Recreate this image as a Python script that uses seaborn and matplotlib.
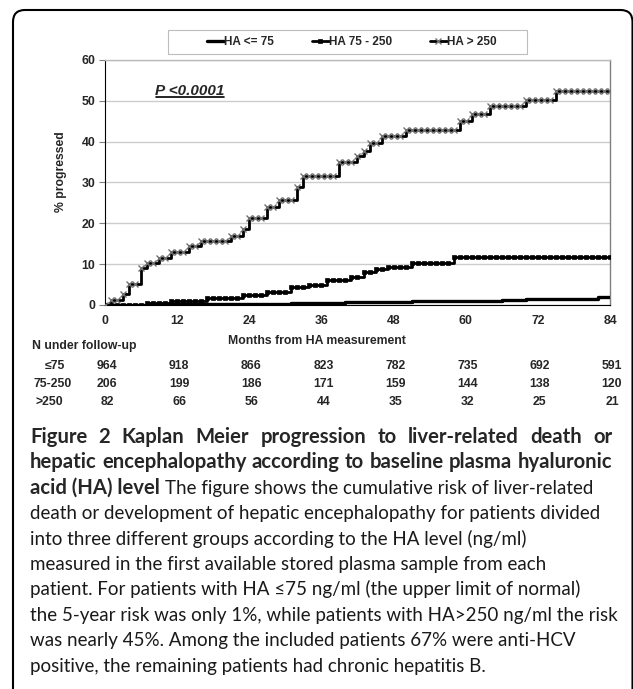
import numpy as np
import pandas as pd
import matplotlib.pyplot as plt
import seaborn as sns
from matplotlib.patches import FancyBboxPatch, Rectangle
from matplotlib.lines import Line2D
from matplotlib.transforms import IdentityTransform

# ---- data (cumulative % progressed, monthly) ----
months = list(range(85))
ha_high = [0, 1.2, 1.2, 2.8, 5.2, 5.2, 9.0, 10.2, 10.2, 11.5, 11.5, 12.9,
           12.9, 12.9, 14.5, 14.5, 15.7, 15.7, 15.7, 15.7, 15.7, 17.0, 17.0, 18.5,
           21.2, 21.2, 21.2, 24.0, 24.0, 25.6, 25.6, 25.6, 28.8, 31.5, 31.5, 31.5,
           31.5, 31.5, 31.5, 35.0, 35.0, 35.0, 36.6, 37.8, 39.6, 39.6, 41.5, 41.5,
           41.5, 41.5, 42.8, 42.8, 42.8, 42.8, 42.8, 42.8, 42.8, 42.8, 42.8, 45.0,
           45.0, 46.8, 46.8, 46.8, 48.8, 48.8, 48.8, 48.8, 48.8, 48.8, 50.2, 50.2,
           50.2, 50.2, 50.2, 52.3, 52.3, 52.3, 52.3, 52.3, 52.3, 52.3, 52.3, 52.3,
           52.3]
ha_mid = [0, 0, 0, 0, 0, 0, 0, 0.6, 0.6, 0.6, 0.6, 1.0,
          1.0, 1.0, 1.0, 1.0, 1.0, 1.6, 1.6, 1.6, 1.6, 1.6, 1.6, 2.4,
          2.4, 2.4, 2.4, 3.2, 3.2, 3.2, 3.2, 4.4, 4.4, 4.4, 5.0, 5.0,
          5.0, 6.0, 6.0, 6.0, 6.0, 6.9, 6.9, 8.1, 8.1, 8.7, 8.7, 9.3,
          9.3, 9.3, 9.3, 10.3, 10.3, 10.3, 10.3, 10.3, 10.3, 10.3, 11.8, 11.8,
          11.8, 11.8, 11.8, 11.8, 11.8, 11.8, 11.8, 11.8, 11.8, 11.8, 11.8, 11.8,
          11.8, 11.8, 11.8, 11.8, 11.8, 11.8, 11.8, 11.8, 11.8, 11.8, 11.8, 11.8,
          11.8]
# HA <= 75 only changes a few times
ha_low_months = [0, 7, 17, 31, 40, 51, 66, 70, 82, 84]
ha_low = [0, 0.2, 0.3, 0.5, 0.7, 1.0, 1.3, 1.5, 1.9, 1.9]

series_labels = ['HA <= 75', 'HA 75 - 250', 'HA > 250']

# numbers at risk
tick_months = [0, 12, 24, 36, 48, 60, 72, 84]
risk_groups = ['≤75', '75-250', '>250']
n_low = [964, 918, 866, 823, 782, 735, 692, 591]
n_mid = [206, 199, 186, 171, 159, 144, 138, 120]
n_high = [82, 66, 56, 44, 35, 32, 25, 21]

caption_bold = ["Figure 2 Kaplan Meier progression to liver-related death or",
                "hepatic encephalopathy according to baseline plasma hyaluronic",
                "acid (HA) level"]
caption_rest = ["The figure shows the cumulative risk of liver-related",
                "death or development of hepatic encephalopathy for patients divided",
                "into three different groups according to the HA level (ng/ml)",
                "measured in the first available stored plasma sample from each",
                "patient. For patients with HA ≤75 ng/ml (the upper limit of normal)",
                "the 5-year risk was only 1%, while patients with HA>250 ng/ml the risk",
                "was nearly 45%. Among the included patients 67% were anti-HCV",
                "positive, the remaining patients had chronic hepatitis B."]

# ---- figure ----
sns.set_style("white")
plt.rcParams['font.family'] = ['Liberation Sans', 'DejaVu Sans']

W, H = 633, 689
fig = plt.figure(figsize=(W / 100, H / 100), dpi=100)


def fx(px):
    return px / W


def fy(py):
    return 1 - py / H


ax = fig.add_axes([fx(105), fy(305), 505 / W, 245 / H])

df_low = pd.DataFrame({'month': ha_low_months, 'pct': ha_low})
df_mid = pd.DataFrame({'month': months, 'pct': ha_mid})
df_high = pd.DataFrame({'month': months, 'pct': ha_high})

sns.lineplot(data=df_low, x='month', y='pct', ax=ax, color='black', lw=2.4,
             drawstyle='steps-post', estimator=None, label=series_labels[0], zorder=3)
sns.lineplot(data=df_mid, x='month', y='pct', ax=ax, color='black', lw=2.0,
             marker='s', ms=3, mec='black', mew=0.5, drawstyle='steps-post',
             estimator=None, label=series_labels[1], zorder=4)
sns.lineplot(data=df_high, x='month', y='pct', ax=ax, color='black', lw=2.0,
             marker='x', ms=5, mec='#707070', mew=1.0, drawstyle='steps-post',
             estimator=None, label=series_labels[2], zorder=5)

handles, labels = ax.get_legend_handles_labels()
ax.get_legend().remove()

ax.set_xlim(0, 84)
ax.set_ylim(0, 60)
ax.set_xticks(tick_months)
ax.set_yticks(range(0, 61, 10))
ax.set_xlabel('')
ax.set_ylabel('')
ax.yaxis.grid(True, color='#cccccc', lw=1)
ax.set_axisbelow(True)
for side in ['left', 'bottom']:
    ax.spines[side].set_color('black')
    ax.spines[side].set_linewidth(0.8)
ax.spines['right'].set_color('#808080')
ax.spines['right'].set_linewidth(1.0)
ax.spines['top'].set_color('#bbbbbb')
ax.spines['top'].set_linewidth(1.0)
ax.tick_params(axis='y', left=True, length=4, width=0.8, color='#808080', pad=3,
               labelsize=8.8)
ax.tick_params(axis='x', bottom=False, pad=4, labelsize=8.8)
for lbl in ax.get_xticklabels() + ax.get_yticklabels():
    lbl.set_fontweight('bold')

# legend: plain grey box with the entries centred inside
fig.add_artist(Rectangle((168, H - 54), 359, 24, fill=False, ec='#bdbdbd', lw=0.8,
                         transform=IdentityTransform()))
leg = fig.legend(handles, labels, loc='center', bbox_to_anchor=(fx(352), fy(42)),
                 ncol=3, frameon=False, prop={'weight': 'bold', 'size': 8.5},
                 handlelength=1.4, handletextpad=0.05, columnspacing=3.2,
                 borderaxespad=0, borderpad=0)

fig.text(fx(61), fy(172), '% progressed', rotation=90, ha='center', va='center',
         fontsize=8.8, fontweight='bold')
p_txt = fig.text(fx(155), fy(91), 'P <0.0001', ha='left', va='center',
                 fontsize=11, fontweight='bold', style='italic')

# risk table
fig.text(fx(317), fy(341), 'Months from HA measurement', ha='center', va='center',
         fontsize=8.8, fontweight='bold')
fig.text(fx(32), fy(346), 'N under follow-up', ha='left', va='center',
         fontsize=8.8, fontweight='bold')
row_y = [366, 384, 402]
row_x = [45, 33, 36]
for grp, counts, y, x0 in zip(risk_groups, [n_low, n_mid, n_high], row_y, row_x):
    fig.text(fx(x0), fy(y), grp, ha='left', va='center', fontsize=8.8,
             fontweight='bold')
    for m, n in zip(tick_months, counts):
        xpix = 105 + m * 505 / 84 + 2
        fig.text(fx(xpix), fy(y), str(n), ha='center', va='center',
                 fontsize=8.8, fontweight='bold')

# outer rounded frame
frame = FancyBboxPatch((13, -30), 619.5, H - 10 + 30,
                       boxstyle='round,pad=0,rounding_size=12',
                       fill=False, ec='black', lw=1.5,
                       transform=IdentityTransform())
fig.add_artist(frame)

# caption
cap_font = ['Lato', 'DejaVu Sans']
bold_size = 14.6
cap_size = 13.5
left_px, right_px = 30, 612
base0 = 443
step = 25.4

fig.canvas.draw()
renderer = fig.canvas.get_renderer()


def text_width(s, size, weight):
    t = fig.text(0, 0, s, fontsize=size, fontweight=weight, family=cap_font)
    w = t.get_window_extent(renderer).width
    t.remove()
    return w


# the two title lines are justified to the full width
for i, line in enumerate(caption_bold[:2]):
    words = line.split(' ')
    widths = [text_width(w_, bold_size, 'bold') for w_ in words]
    gap = (right_px - left_px - sum(widths)) / (len(words) - 1)
    xpos = left_px
    for w_, wd in zip(words, widths):
        fig.text(fx(xpos), fy(base0 + i * step), w_, ha='left', va='baseline',
                 fontsize=bold_size, fontweight='bold', family=cap_font)
        xpos += wd + gap

t3 = fig.text(fx(left_px), fy(base0 + 2 * step), caption_bold[2], ha='left',
              va='baseline', fontsize=bold_size, fontweight='bold', family=cap_font)
bb = t3.get_window_extent(renderer)
fig.text((bb.x1 + 5) / W, fy(base0 + 2 * step), caption_rest[0], ha='left',
         va='baseline', fontsize=cap_size, fontweight='normal', family=cap_font,
         color='#1a1a1a')
for i, line in enumerate(caption_rest[1:]):
    fig.text(fx(left_px), fy(base0 + (i + 3) * step), line, ha='left', va='baseline',
             fontsize=cap_size, fontweight='normal', family=cap_font, color='#1a1a1a')

# underline the P value
pb = p_txt.get_window_extent(renderer)
fig.add_artist(Line2D([pb.x0 + 1, pb.x1], [pb.y0 + 1, pb.y0 + 1], color='black', lw=1.2,
                      transform=IdentityTransform()))

fig.savefig('out.png', dpi=100)
